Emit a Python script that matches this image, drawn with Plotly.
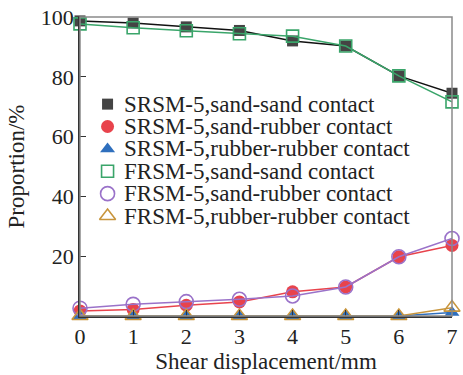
import plotly.graph_objects as go

# Shear displacement (mm)
displacement = [0, 1, 2, 3, 4, 5, 6, 7]

# Contact proportions (%)
srsm_sand_sand = [98.7, 98.0, 96.7, 95.5, 92.0, 90.3, 80.3, 74.5]
srsm_sand_rubber = [1.7, 2.2, 3.6, 4.7, 8.1, 9.7, 19.8, 23.6]
srsm_rubber_rubber = [0, 0, 0, 0, 0, 0, 0, 1.2]
frsm_sand_sand = [97.7, 96.4, 95.4, 94.4, 93.6, 90.3, 80.3, 71.6]
frsm_sand_rubber = [2.6, 3.9, 4.8, 5.6, 6.7, 9.7, 19.8, 25.9]
frsm_rubber_rubber = [0, 0, 0, 0, 0, 0, 0, 2.8]

names = [
    "SRSM-5,sand-sand contact",
    "SRSM-5,sand-rubber contact",
    "SRSM-5,rubber-rubber contact",
    "FRSM-5,sand-sand contact",
    "FRSM-5,sand-rubber contact",
    "FRSM-5,rubber-rubber contact",
]
y_ticks = [20, 40, 60, 80, 100]

FONT = "Liberation Serif"

series = [
    (srsm_sand_sand, "#111111", dict(symbol="square", size=11, color="#444444",
                                      line=dict(width=0))),
    (srsm_sand_rubber, "#e8434c", dict(symbol="circle", size=13, color="#e8434c",
                                        line=dict(width=0))),
    (srsm_rubber_rubber, "#2f6fbd", dict(symbol="triangle-up", size=13, color="#2f6fbd",
                                          line=dict(width=0))),
    (frsm_sand_sand, "#3aa56a", dict(symbol="square-open", size=12, color="#3aa56a",
                                      line=dict(width=1.6))),
    (frsm_sand_rubber, "#9a72c9", dict(symbol="circle-open", size=14, color="#9a72c9",
                                        line=dict(width=1.6))),
    (frsm_rubber_rubber, "#c8953c", dict(symbol="triangle-up-open", size=14, color="#c8953c",
                                          line=dict(width=1.6))),
]

fig = go.Figure()
for (values, line_color, marker), name in zip(series, names):
    fig.add_trace(go.Scatter(
        x=displacement, y=values, name=name, mode="lines+markers",
        line=dict(color=line_color, width=1.5), marker=marker,
        cliponaxis=False, showlegend=False,
    ))

# Legend keys drawn on an overlay axis measured in pixels from the plot's top-left
plot_w, plot_h = 378, 302
key_x, text_x, row0, row_gap = 28, 43, 88, 22.6
for i, ((values, line_color, marker), name) in enumerate(zip(series, names)):
    ky = row0 + i * row_gap
    fig.add_trace(go.Scatter(
        x=[key_x], y=[ky], mode="markers", marker=marker,
        xaxis="x2", yaxis="y2", showlegend=False, hoverinfo="skip",
        cliponaxis=False,
    ))
    fig.add_annotation(
        x=text_x, y=ky, xref="x2", yref="y2", text=name, showarrow=False,
        xanchor="left", yanchor="middle",
        font=dict(family=FONT, size=23, color="#222222"),
    )

# Grey frame on top and right
fig.add_shape(type="rect", xref="x domain", yref="y domain", x0=0, x1=1, y0=0, y1=1,
              line=dict(color="#8a8a8a", width=1.5), layer="above")

fig.update_layout(
    width=463, height=375,
    margin=dict(l=80, r=5, t=14, b=59),
    paper_bgcolor="white", plot_bgcolor="white",
    font=dict(family=FONT, size=22, color="#222222"),
    xaxis=dict(
        range=[0, 7], tickvals=displacement, ticks="inside", ticklen=6,
        tickcolor="#333333", showline=True, linecolor="#333333", linewidth=1.5,
        showgrid=False, zeroline=False, ticklabeloverflow="allow",
        title=dict(text="Shear displacement/mm", standoff=1, font=dict(size=23)),
        tickfont=dict(size=22),
    ),
    yaxis=dict(
        range=[0, 100], tickvals=y_ticks, ticks="inside", ticklen=6,
        tickcolor="#333333", showline=True, linecolor="#333333", linewidth=1.5,
        showgrid=False, zeroline=False,
        title=dict(text="Proportion/%", standoff=10, font=dict(size=23)),
        tickfont=dict(size=22),
    ),
    xaxis2=dict(range=[0, plot_w], overlaying="x", visible=False, fixedrange=True),
    yaxis2=dict(range=[plot_h, 0], overlaying="y", visible=False, fixedrange=True),
    showlegend=False,
)

fig.write_html("out.html")
